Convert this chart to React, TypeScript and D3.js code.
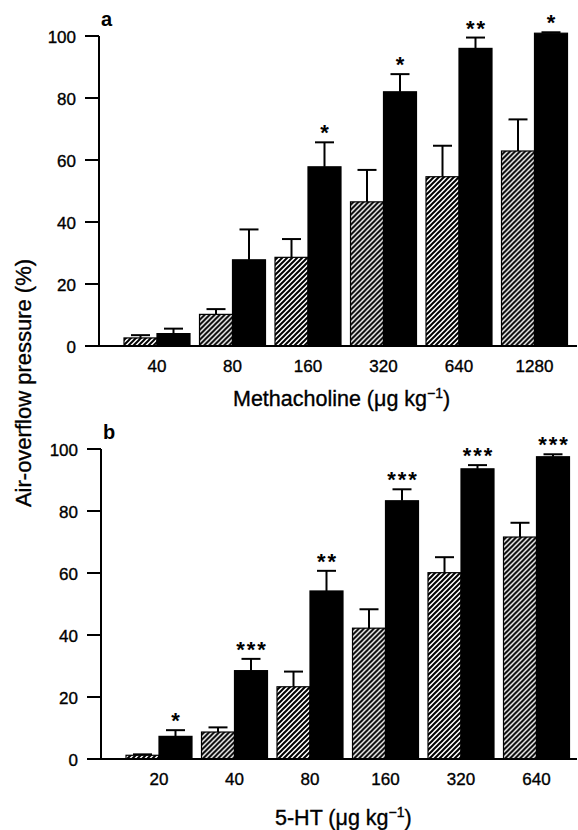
import React from 'react';
import * as d3 from 'd3';

const dosesA = ['40', '80', '160', '320', '640', '1280'];
const controlA = [2.6, 10.2, 28.6, 46.5, 54.6, 62.9];
const controlErrA = [0.9, 1.7, 5.9, 10.3, 10.0, 10.2];
const treatedA = [4.0, 27.8, 57.8, 82.0, 96.0, 100.9];
const treatedErrA = [1.6, 9.8, 7.9, 5.7, 3.5, 0.3];
const sigA = ['', '', '*', '*', '**', '*'];

const dosesB = ['20', '40', '80', '160', '320', '640'];
const controlB = [1.2, 8.7, 23.3, 42.2, 60.1, 71.6];
const controlErrB = [0.3, 1.5, 4.9, 6.1, 5.0, 4.6];
const treatedB = [7.3, 28.5, 54.2, 83.3, 93.6, 97.5];
const treatedErrB = [2.0, 3.8, 6.5, 3.7, 1.2, 0.8];
const sigB = ['*', '***', '**', '***', '***', '***'];

const yTicks = [0, 20, 40, 60, 80, 100];
const seriesKeys = ['control', 'treated'];

const FONT = "'Liberation Sans', Arial, Helvetica, sans-serif";

type PanelProps = {
  label: string;
  doses: string[];
  control: number[];
  controlErr: number[];
  treated: number[];
  treatedErr: number[];
  sig: string[];
  y0: number;
  y100: number;
  axisX: number;
  title: string;
  titleX: number;
  titleY: number;
};

function Panel(p: PanelProps) {
  const y = d3.scaleLinear().domain([0, 100]).range([p.y0, p.y100]);
  const x = d3
    .scaleBand<string>()
    .domain(p.doses)
    .range([p.axisX + 20.25, p.axisX + 473.25])
    .paddingInner(0.126)
    .paddingOuter(0.063);
  const xs = d3.scaleBand<string>().domain(seriesKeys).range([0, x.bandwidth()]).padding(0);
  const bw = xs.bandwidth();

  const rows = p.doses.map((d, i) => ({
    dose: d,
    vals: [
      { key: 'control', v: p.control[i], e: p.controlErr[i] },
      { key: 'treated', v: p.treated[i], e: p.treatedErr[i] },
    ],
    sig: p.sig[i],
  }));

  return (
    <g>
      <text x={p.axisX + 2} y={y(100) - 10} fontFamily={FONT} fontWeight="bold" fontSize={20}>
        {p.label}
      </text>
      {/* bars */}
      {rows.map((r) => (
        <g key={r.dose} transform={`translate(${x(r.dose)},0)`}>
          {r.vals.map((s) => {
            const bx = xs(s.key)!;
            const top = y(s.v);
            const etop = y(s.v + s.e);
            const cx = bx + bw / 2;
            return (
              <g key={s.key}>
                <line x1={cx} x2={cx} y1={top} y2={etop} stroke="#000" strokeWidth={2} />
                <line x1={cx - 9.5} x2={cx + 9.5} y1={etop} y2={etop} stroke="#000" strokeWidth={2} />
                <rect
                  x={bx}
                  y={top}
                  width={bw}
                  height={y(0) - top}
                  fill={s.key === 'control' ? 'url(#hatch)' : '#000'}
                  stroke="#000"
                  strokeWidth={1.2}
                />
              </g>
            );
          })}
          {r.sig &&
            r.sig.split('').map((c, k, arr) => {
              const s = r.vals[1];
              const cx = xs('treated')! + bw / 2 + (k - (arr.length - 1) / 2) * 10.5;
              return (
                <text
                  key={k}
                  x={cx}
                  y={y(s.v + s.e) - 2}
                  textAnchor="middle"
                  fontFamily={FONT}
                  fontSize={22}
                  fontWeight="bold"
                >
                  {c}
                </text>
              );
            })}
          <text
            x={x.bandwidth() / 2}
            y={p.y0 + 26}
            textAnchor="middle"
            fontFamily={FONT}
            fontSize={17}
            stroke="#000"
            strokeWidth={0.35}
          >
            {r.dose}
          </text>
        </g>
      ))}
      {/* y axis */}
      <line x1={p.axisX} x2={p.axisX} y1={y(100)} y2={y(0)} stroke="#000" strokeWidth={2} />
      {yTicks.map((t) => (
        <g key={t}>
          <line x1={p.axisX - 14} x2={p.axisX} y1={y(t)} y2={y(t)} stroke="#000" strokeWidth={2} />
          <text
            x={p.axisX - 23}
            y={y(t) + 7}
            textAnchor="end"
            fontFamily={FONT}
            fontSize={17}
            stroke="#000"
            strokeWidth={0.35}
          >
            {t}
          </text>
        </g>
      ))}
      {/* x axis */}
      <line x1={p.axisX - 14} x2={577} y1={y(0)} y2={y(0)} stroke="#000" strokeWidth={2} />
      <text
        x={p.titleX}
        y={p.titleY}
        fontFamily={FONT}
        fontSize={21.5}
        stroke="#000"
        strokeWidth={0.35}
      >
        {p.title} (μg kg
        <tspan dy={-8} fontSize={14}>
          −1
        </tspan>
        <tspan dy={8}>)</tspan>
      </text>
    </g>
  );
}

export default function App() {
  return (
    <svg
      width={578}
      height={830}
      style={{ position: 'absolute', left: 0, top: 0, background: '#fff' }}
    >
      <defs>
        <pattern id="hatch" patternUnits="userSpaceOnUse" width={5} height={5}>
          <rect width={5} height={5} fill="#fff" />
          <path d="M-1.25,1.25 l2.5,-2.5 M0,5 l5,-5 M3.75,6.25 l2.5,-2.5" stroke="#000" strokeWidth={2} />
        </pattern>
      </defs>
      <Panel
        label="a"
        doses={dosesA}
        control={controlA}
        controlErr={controlErrA}
        treated={treatedA}
        treatedErr={treatedErrA}
        sig={sigA}
        y0={346}
        y100={36}
        axisX={99}
        title="Methacholine"
        titleX={233}
        titleY={406}
      />
      <Panel
        label="b"
        doses={dosesB}
        control={controlB}
        controlErr={controlErrB}
        treated={treatedB}
        treatedErr={treatedErrB}
        sig={sigB}
        y0={759}
        y100={449}
        axisX={101}
        title="5-HT"
        titleX={275}
        titleY={825}
      />
      <text
        transform="translate(31,383) rotate(-90)"
        textAnchor="middle"
        fontFamily={FONT}
        fontSize={22}
        stroke="#000"
        strokeWidth={0.35}
      >
        Air-overflow pressure (%)
      </text>
    </svg>
  );
}
